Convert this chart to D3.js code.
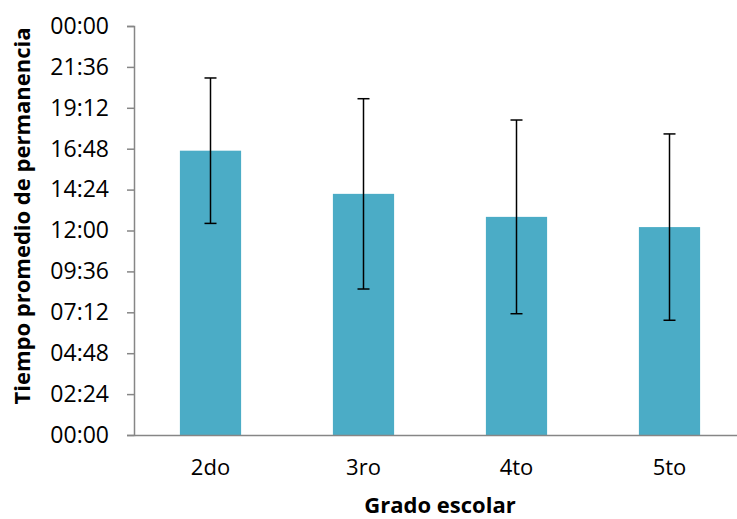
<!DOCTYPE html>
<html><head><meta charset="utf-8">
<script src="https://cdn.jsdelivr.net/npm/d3@7"></script>
<style>body{margin:0;background:#fff;} svg{display:block;font-family:"Open Sans",sans-serif;}</style>
</head><body>
<script>
// Data (minutes, axis formatted as hh:mm over a 24h span)
const categories = ["2do", "3ro", "4to", "5to"];
const means = [1001, 849, 768, 732];        // average stay
const errors = [256, 335, 341, 328];        // error bar half-length
const yTicks = [0, 144, 288, 432, 576, 720, 864, 1008, 1152, 1296, 1440];
const yTickLabels = ["00:00","02:24","04:48","07:12","09:36","12:00","14:24","16:48","19:12","21:36","00:00"];
const xTitle = "Grado escolar";
const yTitle = "Tiempo promedio de permanencia";

const W = 737, H = 519;
const mLeft = 134, mRight = 746, mTop = 26, mBottom = 435;
const svg = d3.select("body").append("svg").attr("width", W).attr("height", H);

const x = d3.scaleBand().domain(categories).range([mLeft, mRight]).paddingInner(0.6).paddingOuter(0.3);
const y = d3.scaleLinear().domain([0, 1440]).range([mBottom, mTop]);

// bars
svg.append("g").selectAll("rect").data(categories).join("rect")
  .attr("x", d => x(d)).attr("width", x.bandwidth())
  .attr("y", (d, i) => y(means[i])).attr("height", (d, i) => y(0) - y(means[i]))
  .attr("fill", "#4BACC6");

// y axis
const yAxis = d3.axisLeft(y).tickValues(yTicks).tickSize(7).tickPadding(18)
  .tickFormat((d, i) => yTickLabels[i]);
const gy = svg.append("g").attr("transform", `translate(${mLeft},0)`).call(yAxis);
gy.select(".domain").attr("stroke", "#868686").attr("stroke-width", 1.5);
gy.selectAll(".tick line").attr("stroke", "#868686").attr("stroke-width", 1.5);
gy.selectAll(".tick text").attr("fill", "#000").style("font-size", "23px").style("font-family", "Open Sans");

// x axis
const xAxis = d3.axisBottom(x).tickSize(0).tickPadding(24);
const gx = svg.append("g").attr("transform", `translate(0,${mBottom})`).call(xAxis);
gx.select(".domain").attr("stroke", "#868686").attr("stroke-width", 1.5);
gx.selectAll(".tick text").attr("fill", "#000").style("font-size", "22px").style("font-family", "Open Sans");

// error bars
const eb = svg.append("g").attr("stroke", "#000").attr("stroke-width", 1.5);
categories.forEach((c, i) => {
  const cx = x(c) + x.bandwidth() / 2;
  const y1 = y(means[i] + errors[i]), y2 = y(means[i] - errors[i]);
  eb.append("line").attr("x1", cx).attr("x2", cx).attr("y1", y1).attr("y2", y2);
  eb.append("line").attr("x1", cx - 6).attr("x2", cx + 6).attr("y1", y1).attr("y2", y1);
  eb.append("line").attr("x1", cx - 6).attr("x2", cx + 6).attr("y1", y2).attr("y2", y2);
});

// titles
svg.append("text").attr("x", 440).attr("y", 513).attr("text-anchor", "middle")
  .style("font-size", "22px").style("font-weight", "bold").text(xTitle);
svg.append("text").attr("transform", "translate(30,216) rotate(-90)").attr("text-anchor", "middle")
  .style("font-size", "22px").style("font-weight", "bold").text(yTitle);
</script>
</body></html>
